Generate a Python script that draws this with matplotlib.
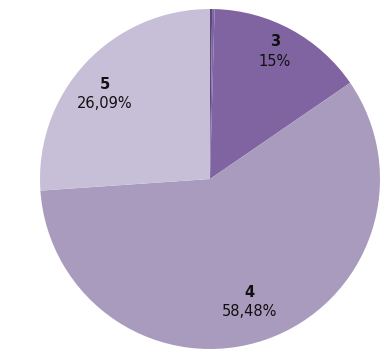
import numpy as np
import matplotlib
matplotlib.use('Agg')
import matplotlib.pyplot as plt

# data
categories = ['1', '2', '3', '4', '5']
shares = [0.2, 0.23, 15.0, 58.48, 26.09]
pct_labels = ['', '', '15%', '58,48%', '26,09%']
colors = ['#5b4778', '#7d65a4', '#8064a2', '#a99bbd', '#c7bfd8']

fig = plt.figure(figsize=(3.87, 3.59), dpi=100)
ax = fig.add_axes([40/387, 10/359, 340/387, 340/359])

wedges, _ = ax.pie(shares, colors=colors, startangle=90, counterclock=False,
                   radius=1, wedgeprops=dict(linewidth=0))

# label placement per slice: distance from centre and angle nudge (deg)
lab_r = [0, 0, 0.84, 0.76, 0.795]
lab_da = [0, 0, 1.5, -1.2, 4.0]
for w, cat, pl, r, da in zip(wedges, categories, pct_labels, lab_r, lab_da):
    if not pl:
        continue
    ang = np.deg2rad((w.theta1 + w.theta2) / 2 + da)
    x, y = r*np.cos(ang), r*np.sin(ang)
    ax.text(x, y + 0.058, cat, ha='center', va='center', fontsize=10.5,
            fontweight='bold', color='#111111')
    ax.text(x, y - 0.058, pl, ha='center', va='center', fontsize=10.5,
            color='#111111')

ax.set_xlim(-1, 1)
ax.set_ylim(-1, 1)
ax.set_aspect('equal')
ax.axis('off')

plt.savefig('out.png', dpi=100)
